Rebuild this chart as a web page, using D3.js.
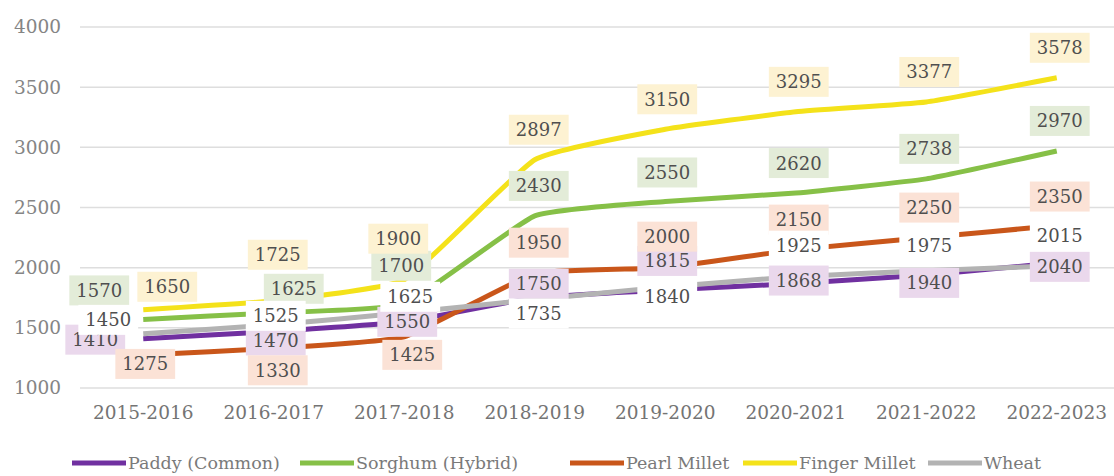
<!DOCTYPE html>
<html>
<head>
<meta charset="utf-8">
<script src="https://cdn.jsdelivr.net/npm/d3@7"></script>
<style>
  body { margin: 0; background: #fff; }
  svg { display: block; }
</style>
</head>
<body>
<svg width="1114" height="476"></svg>
<script>
var width = 1114, height = 476;

var years = ["2015-2016", "2016-2017", "2017-2018", "2018-2019", "2019-2020", "2020-2021", "2021-2022", "2022-2023"];
var yTicks = [1000, 1500, 2000, 2500, 3000, 3500, 4000];

var paddy = [1410, 1470, 1550, 1750, 1815, 1868, 1940, 2040];
var sorghum = [1570, 1625, 1700, 2430, 2550, 2620, 2738, 2970];
var pearlMillet = [1275, 1330, 1425, 1950, 2000, 2150, 2250, 2350];
var fingerMillet = [1650, 1725, 1900, 2897, 3150, 3295, 3377, 3578];
var wheat = [1450, 1525, 1625, 1735, 1840, 1925, 1975, 2015];

var seriesNames = ["Paddy (Common)", "Sorghum (Hybrid)", "Pearl Millet", "Finger Millet", "Wheat"];
var seriesValues = [paddy, sorghum, pearlMillet, fingerMillet, wheat];

// styling: line colour, label background
var lineColors = ["#7030a0", "#86c047", "#c9561a", "#f4e21a", "#b3b3b3"];
var labelFills = ["#ead8ec", "#e3ecd8", "#fbe2d6", "#fdf2d2", "#ffffff"];

// label placement offsets from the data point (dx, dy), one per point
var labelOffsets = [
  [[-48, 1], [2, 9], [3, 0], [4, -14], [2, -29], [3, -3], [3, 8], [3, 4]],
  [[-44, -29], [20, -24], [-3, -38], [4, -30], [2, -29], [3, -30], [3, -30], [3, -30]],
  [[2, 9], [4, 22], [8, 18], [4, -31], [2, -31], [3, -30], [3, -30], [3, -29]],
  [[24, -23], [4, -46], [-6, -41], [4, -30], [2, -30], [3, -30], [3, -30], [3, -30]],
  [[-35, -14], [2, -9], [6, -16], [4, 14], [2, 10], [3, -31], [3, -25], [3, -30]]
];

var svg = d3.select("svg");

var x = d3.scalePoint()
  .domain(years)
  .range([78, 1122])
  .padding(0.5);

var y = d3.scaleLinear()
  .domain([1000, 4000])
  .range([388, 27]);

// gridlines
svg.append("g")
  .selectAll("line")
  .data(yTicks)
  .enter()
  .append("line")
  .attr("x1", 80)
  .attr("x2", width)
  .attr("y1", function(d) { return y(d); })
  .attr("y2", function(d) { return y(d); })
  .style("stroke", "#dedede")
  .style("stroke-width", 1.5);

// y tick labels
svg.append("g")
  .selectAll("text")
  .data(yTicks)
  .enter()
  .append("text")
  .attr("x", 61)
  .attr("y", function(d) { return y(d); })
  .attr("text-anchor", "end")
  .attr("dy", "0.35em")
  .style("font-family", "DejaVu Serif")
  .style("font-size", "18.5px")
  .style("fill", "#858585")
  .text(function(d) { return d; });

// x tick labels
svg.append("g")
  .selectAll("text")
  .data(years)
  .enter()
  .append("text")
  .attr("x", function(d) { return x(d); })
  .attr("y", 413)
  .attr("text-anchor", "middle")
  .attr("dy", "0.35em")
  .style("font-family", "DejaVu Serif")
  .style("font-size", "18.5px")
  .style("fill", "#747474")
  .text(function(d) { return d; });

var line = d3.line()
  .x(function(d, i) { return x(years[i]); })
  .y(function(d) { return y(d); })
  .curve(d3.curveCardinal.tension(0.6));

svg.append("g")
  .selectAll("path")
  .data(seriesValues)
  .enter()
  .append("path")
  .attr("d", line)
  .style("fill", "none")
  .style("stroke", function(d, i) { return lineColors[i]; })
  .style("stroke-width", 5)
  .style("stroke-linejoin", "round");

// data labels
var labelLayer = svg.append("g");
seriesValues.forEach(function(vals, s) {
  vals.forEach(function(v, i) {
    var off = labelOffsets[s][i];
    var cx = x(years[i]) + off[0];
    var cy = y(v) + off[1];
    var g = labelLayer.append("g");
    var rect = g.append("rect");
    var t = g.append("text")
      .attr("x", cx)
      .attr("y", cy)
      .attr("text-anchor", "middle")
      .attr("dy", "0.36em")
      .style("font-family", "DejaVu Serif")
      .style("font-size", "18px")
      .style("fill", "#4f4f4f")
      .text(v);
    var bb = t.node().getBBox();
    rect.attr("x", bb.x - 7)
      .attr("y", cy - 15)
      .attr("width", bb.width + 14)
      .attr("height", 30)
      .style("fill", labelFills[s]);
  });
});

// legend
var legendX = [72, 300, 570, 743, 928];
var legend = svg.append("g")
  .selectAll("g")
  .data(seriesNames)
  .enter()
  .append("g")
  .attr("transform", function(d, i) { return "translate(" + legendX[i] + ",463)"; });

legend.append("line")
  .attr("x1", 0)
  .attr("x2", 54)
  .style("stroke", function(d, i) { return lineColors[i]; })
  .style("stroke-width", 5);

legend.append("text")
  .attr("x", 56)
  .attr("dy", "0.35em")
  .style("font-family", "DejaVu Serif")
  .style("font-size", "17.5px")
  .style("fill", "#7a7a7a")
  .text(function(d) { return d; });
</script>
</body>
</html>
